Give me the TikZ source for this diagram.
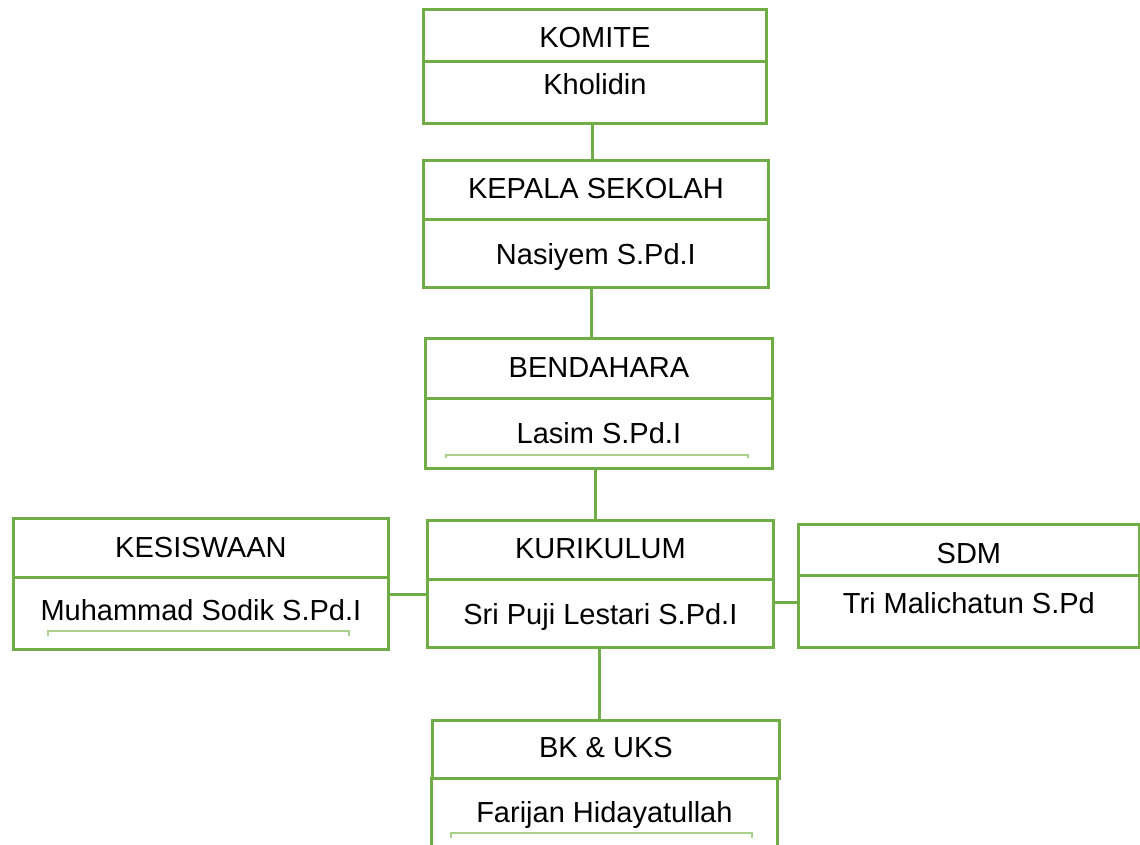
\documentclass[tikz,border=0pt]{standalone}
\usepackage{fontspec}
\setmainfont{Liberation Sans}
\definecolor{orggreen}{HTML}{70AD47}
\definecolor{lightgreen}{HTML}{A9D18E}
\tikzset{
    part/.style={draw=orggreen, line width=2.8pt, inner sep=0pt, anchor=north west,
        font=\fontsize{29pt}{34pt}\selectfont},
    link/.style={draw=orggreen, line width=3pt},
    underline/.style={draw=lightgreen, line width=1.4pt}
}
\begin{document}
\begin{tikzpicture}[x=1pt, y=-1pt]
    \clip (0,0) rectangle (1140,844);
    \fill[white] (0,0) rectangle (1140,844);

    % top of the chart
    \node[part, minimum width=343pt, text height=38pt, text depth=14pt] (komite) at (422,8) {KOMITE};
    \node[part, minimum width=343pt, text height=33pt, text depth=29pt] (komiteN) at (422,60) {Kholidin};

    \node[part, minimum width=345pt, text height=38pt, text depth=21pt] (kepala) at (422,159) {KEPALA SEKOLAH};
    \node[part, minimum width=345pt, text height=45pt, text depth=23pt] (kepalaN) at (422,218) {Nasiyem S.Pd.I};

    \node[part, minimum width=347pt, text height=39pt, text depth=21pt] (bendahara) at (424,337) {BENDAHARA};
    \node[part, minimum width=347pt, text height=45pt, text depth=25pt] (bendaharaN) at (424,397) {Lasim S.Pd.I};
    \draw[underline] (446,458) -- (446,455) -- (748,455) -- (748,458);

    % middle row
    \node[part, minimum width=375pt, text height=39pt, text depth=20pt] (kesiswaan) at (12,517) {KESISWAAN};
    \node[part, minimum width=375pt, text height=43pt, text depth=29pt] (kesiswaanN) at (12,576) {Muhammad Sodik S.Pd.I};
    \draw[underline] (48,636) -- (48,631) -- (349,631) -- (349,636);

    \node[part, minimum width=346pt, text height=38pt, text depth=21pt] (kurikulum) at (426,519) {KURIKULUM};
    \node[part, minimum width=346pt, text height=45pt, text depth=23pt] (kurikulumN) at (426,578) {Sri Puji Lestari S.Pd.I};

    \node[part, minimum width=341pt, text height=39pt, text depth=12pt] (sdm) at (797,523) {SDM};
    \node[part, minimum width=341pt, text height=38pt, text depth=34pt] (sdmN) at (797,574) {Tri Malichatun S.Pd};

    % bottom
    \node[part, minimum width=347pt, text height=37pt, text depth=21pt] (bk) at (431,719) {BK \& UKS};
    \node[part, minimum width=346pt, text height=44pt, text depth=59pt] (bkN) at (430,777) {Farijan Hidayatullah};
    \draw[underline] (451,838) -- (451,833) -- (752,833) -- (752,838);

    % connectors
    \draw[link] ([xshift=-2.5pt]komiteN.south) -- ([xshift=-2.5pt]komiteN.south |- kepala.north);
    \draw[link] ([xshift=-4.5pt]kepalaN.south) -- ([xshift=-4.5pt]kepalaN.south |- bendahara.north);
    \draw[link] ([xshift=-3.5pt]bendaharaN.south) -- ([xshift=-3.5pt]bendaharaN.south |- kurikulum.north);
    \draw[link] ([xshift=-1pt]kurikulumN.south) -- ([xshift=-1pt]kurikulumN.south |- bk.north);
    \draw[link] ([yshift=19pt]kesiswaanN.east) -- ([yshift=19pt]kesiswaanN.east -| kurikulumN.west);
    \draw[link] ([yshift=11pt]kurikulumN.east) -- ([yshift=11pt]kurikulumN.east -| sdmN.west);
\end{tikzpicture}
\end{document}
